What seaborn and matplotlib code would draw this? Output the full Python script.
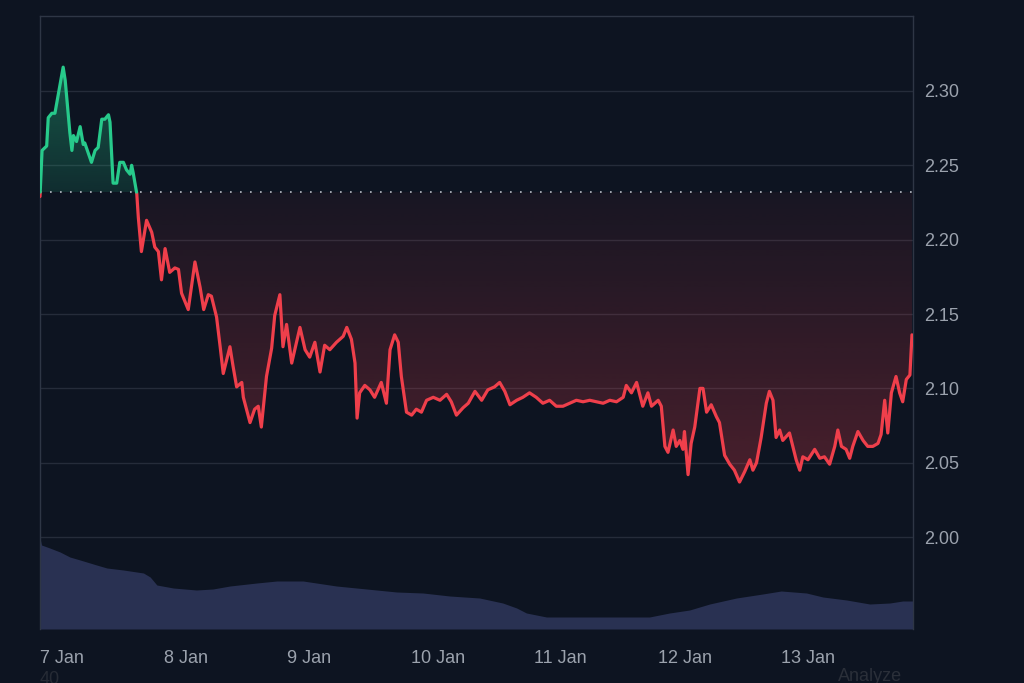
import numpy as np
import pandas as pd
import matplotlib
matplotlib.use('Agg')
import matplotlib.pyplot as plt
import matplotlib.colors as mcolors
import seaborn as sns

# price, hours since 7 Jan 00:00
hours = [0, 0.4, 1.3, 1.6, 2.3, 2.9, 4.5, 4.9, 5.8, 6.2,
         6.5, 7.1, 7.8, 8.4, 8.7, 10.0, 10.7, 11.3, 12.0, 12.6,
         13.3, 13.6, 14.2, 14.9, 15.5, 16.2, 16.8, 17.5, 17.8, 18.1,
         18.8, 19.1, 19.7, 20.7, 21.7, 22.3, 23.0, 23.6, 24.3, 25.2,
         26.2, 26.9, 27.5, 28.8, 30.1, 31.1, 31.8, 32.7, 33.3, 34.3,
         35.0, 35.6, 36.9, 37.5, 38.2, 39.2, 39.5, 40.8, 41.7, 42.4,
         43.0, 44.0, 45.0, 45.6, 46.6, 47.2, 47.9, 48.9, 50.5, 51.5,
         52.4, 53.4, 54.4, 55.3, 56.3, 57.6, 58.9, 59.6, 60.5, 61.2,
         61.6, 62.1, 63.1, 64.1, 65.0, 66.3, 67.3, 68.0, 68.9, 69.6,
         70.2, 71.2, 72.2, 73.1, 74.1, 75.1, 76.4, 77.7, 79.0, 79.9,
         80.9, 82.2, 83.2, 84.5, 85.8, 87.0, 88.3, 89.3, 90.3, 91.3,
         92.6, 93.8, 95.1, 96.4, 97.7, 99.0, 100.3, 101.6, 102.9, 104.2,
         105.5, 106.8, 108.1, 109.4, 110.7, 112.0, 113.3, 113.9, 114.9, 115.9,
         117.1, 118.1, 118.8, 120.1, 120.7, 121.4, 122.0, 123.0, 123.6, 124.3,
         124.9, 125.2, 125.9, 126.5, 127.2, 128.2, 128.8, 129.5, 130.4, 131.4,
         132.0, 133.0, 134.0, 134.9, 135.9, 136.9, 137.9, 138.5, 139.2, 140.1,
         141.1, 141.7, 142.4, 143.0, 143.7, 144.3, 145.6, 146.9, 147.6, 148.2,
         149.2, 150.5, 151.5, 152.4, 153.4, 154.4, 155.0, 155.7, 156.6, 157.3,
         157.9, 158.9, 159.9, 160.8, 161.8, 162.8, 163.4, 164.1, 164.7, 165.4,
         166.3, 167.0, 167.6, 168.3, 169.0, 169.4]
price = [2.229, 2.260, 2.263, 2.282, 2.285, 2.285, 2.316, 2.307, 2.272, 2.260,
         2.270, 2.266, 2.276, 2.264, 2.265, 2.252, 2.260, 2.262, 2.281, 2.281,
         2.284, 2.279, 2.238, 2.238, 2.252, 2.252, 2.247, 2.244, 2.250, 2.245,
         2.231, 2.215, 2.192, 2.213, 2.205, 2.195, 2.192, 2.173, 2.194, 2.178,
         2.181, 2.180, 2.164, 2.153, 2.185, 2.168, 2.153, 2.163, 2.162, 2.148,
         2.128, 2.110, 2.128, 2.115, 2.101, 2.104, 2.094, 2.077, 2.086, 2.088,
         2.074, 2.108, 2.127, 2.149, 2.163, 2.128, 2.143, 2.117, 2.141, 2.126,
         2.121, 2.131, 2.111, 2.129, 2.126, 2.131, 2.135, 2.141, 2.133, 2.117,
         2.080, 2.097, 2.102, 2.099, 2.094, 2.104, 2.090, 2.126, 2.136, 2.131,
         2.108, 2.084, 2.082, 2.086, 2.084, 2.092, 2.094, 2.092, 2.096, 2.091,
         2.082, 2.087, 2.090, 2.098, 2.092, 2.099, 2.101, 2.104, 2.098, 2.089,
         2.092, 2.094, 2.097, 2.094, 2.090, 2.092, 2.088, 2.088, 2.090, 2.092,
         2.091, 2.092, 2.091, 2.090, 2.092, 2.091, 2.094, 2.102, 2.097, 2.104,
         2.088, 2.097, 2.088, 2.092, 2.088, 2.061, 2.057, 2.072, 2.061, 2.065,
         2.059, 2.071, 2.042, 2.063, 2.074, 2.100, 2.100, 2.084, 2.089, 2.081,
         2.077, 2.055, 2.049, 2.045, 2.037, 2.044, 2.052, 2.045, 2.050, 2.067,
         2.090, 2.098, 2.092, 2.067, 2.072, 2.065, 2.070, 2.052, 2.045, 2.054,
         2.052, 2.059, 2.053, 2.054, 2.049, 2.061, 2.072, 2.061, 2.059, 2.053,
         2.061, 2.071, 2.065, 2.061, 2.061, 2.063, 2.069, 2.092, 2.070, 2.097,
         2.108, 2.097, 2.091, 2.106, 2.109, 2.136]

# volume (arbitrary units)
vol_hours = [0, 0.3, 1.9, 3.9, 5.8, 7.8, 11.0, 13.0, 16.2, 20.1,
             21.4, 22.7, 25.9, 30.4, 33.6, 36.9, 42.1, 46.0, 51.1, 53.7,
             57.6, 61.5, 65.4, 69.3, 74.4, 79.6, 85.4, 89.9, 92.6, 94.5,
             98.4, 106.2, 118.4, 122.3, 126.2, 130.1, 135.3, 140.4, 144.0, 148.9,
             152.1, 156.7, 161.2, 165.1, 167.6, 169.6]
vol = [91, 84, 81, 77, 72, 69, 64, 61, 59, 56,
       52, 44, 41, 39, 40, 43, 46, 48, 48, 46,
       43, 41, 39, 37, 36, 33, 31, 26, 21, 16,
       12, 12, 12, 16, 19, 25, 31, 35, 38, 36,
       32, 29, 25, 26, 28, 28]

base_price = 2.232
day_ticks = [0, 24, 48, 72, 96, 120, 144]
day_labels = ['7 Jan', '8 Jan', '9 Jan', '10 Jan', '11 Jan', '12 Jan', '13 Jan']
price_ticks = [2.00, 2.05, 2.10, 2.15, 2.20, 2.25, 2.30]

# colours
bg = '#0d1421'
grid_col = '#252c3a'
frame_col = '#2e3645'
text_col = '#9ba2ad'
up_col = '#27ca8b'
down_col = '#ef3f4b'
vol_col = '#293152'

sns.set_theme(style='dark')
plt.rcParams['font.family'] = ['Liberation Sans', 'DejaVu Sans']

# split the line where it crosses the baseline
xs, ys = [hours[0]], [price[0]]
for i in range(1, len(hours)):
    x0, y0, x1, y1 = hours[i-1], price[i-1], hours[i], price[i]
    if (y0 - base_price) * (y1 - base_price) < 0:
        t = (base_price - y0) / (y1 - y0)
        xs.append(x0 + t * (x1 - x0)); ys.append(base_price)
    xs.append(x1); ys.append(y1)
xs = np.array(xs); ys = np.array(ys)

rows = []
seg = -1
prev_side = None
for i in range(1, len(xs)):
    side = 'up' if (ys[i-1] + ys[i]) / 2 > base_price else 'down'
    if side != prev_side:
        seg += 1
        rows.append((xs[i-1], ys[i-1], side, seg))
        prev_side = side
    rows.append((xs[i], ys[i], side, seg))
df = pd.DataFrame(rows, columns=['h', 'p', 'side', 'seg'])

fig = plt.figure(figsize=(10.24, 6.83), dpi=100, facecolor=bg)
pos = [40/1024, 1-629/683, 873/1024, 613/683]
ax = fig.add_axes(pos)
ax_v = ax.twinx()
ax.set_zorder(2); ax_v.set_zorder(1)
ax.patch.set_visible(False); ax_v.patch.set_visible(False)

# volume
ax_v.fill_between(vol_hours, vol, 0, color=vol_col, lw=0)
ax_v.set_ylim(0, 613)
ax_v.set_yticks([])
for s in ax_v.spines.values():
    s.set_visible(False)

xmin, xmax = 0, 169.6
ymin, ymax = 1.9382, 2.3504


def gradient_fill(y_lo, y_hi, color, a_top, a_bot, ytop, ybot):
    poly = ax.fill_between(xs, y_lo, y_hi, color='none', lw=0)
    path = poly.get_paths()[0]
    z = np.zeros((256, 1, 4))
    z[:, :, :3] = mcolors.to_rgb(color)
    z[:, 0, 3] = np.linspace(a_top, a_bot, 256)
    im = ax.imshow(z, aspect='auto', extent=[xmin, xmax, ybot, ytop],
                   origin='upper', zorder=1, interpolation='bilinear')
    im.set_clip_path(path, transform=ax.transData)


gradient_fill(base_price, np.maximum(ys, base_price), up_col, 0.38, 0.14,
              max(price), base_price)
gradient_fill(np.minimum(ys, base_price), base_price, down_col, 0.05, 0.27,
              base_price, min(price))

sns.lineplot(data=df, x='h', y='p', hue='side', units='seg', estimator=None,
             sort=False, palette={'up': up_col, 'down': down_col}, lw=2.3,
             legend=False, ax=ax, zorder=4, solid_joinstyle='round')

ax.axhline(base_price, color='#b8bdc6', lw=1.2, ls=(0, (1, 5)), zorder=3)

ax.set_xlim(xmin, xmax)
ax.set_ylim(ymin, ymax)
ax.set_yticks(price_ticks)
ax.yaxis.set_major_formatter(matplotlib.ticker.FormatStrFormatter('%.2f'))
ax.yaxis.tick_right()
ax.grid(axis='y', color=grid_col, lw=1.0)
ax.grid(axis='x', visible=False)
ax.set_xticks(day_ticks, day_labels)
for lbl in ax.get_xticklabels():
    lbl.set_ha('left')
ax.tick_params(axis='y', length=0, pad=8, labelsize=13, labelcolor=text_col)
ax.tick_params(axis='x', length=0, pad=15, labelsize=13, labelcolor=text_col)
ax.set_xlabel(''); ax.set_ylabel('')
for name, s in ax.spines.items():
    s.set_color(frame_col)
    s.set_linewidth(1.0)
    s.set_visible(name != 'bottom')

# partly hidden texts along the bottom edge, as in the source
fig.text(40/1024, 1-671/683, '40', ha='left', va='top', fontsize=13, color='#262b35')
fig.text(838/1024, 1-668/683, 'Analyze', ha='left', va='top', fontsize=13, color='#2a2f39')

fig.savefig('out.png', dpi=100, facecolor=bg)
